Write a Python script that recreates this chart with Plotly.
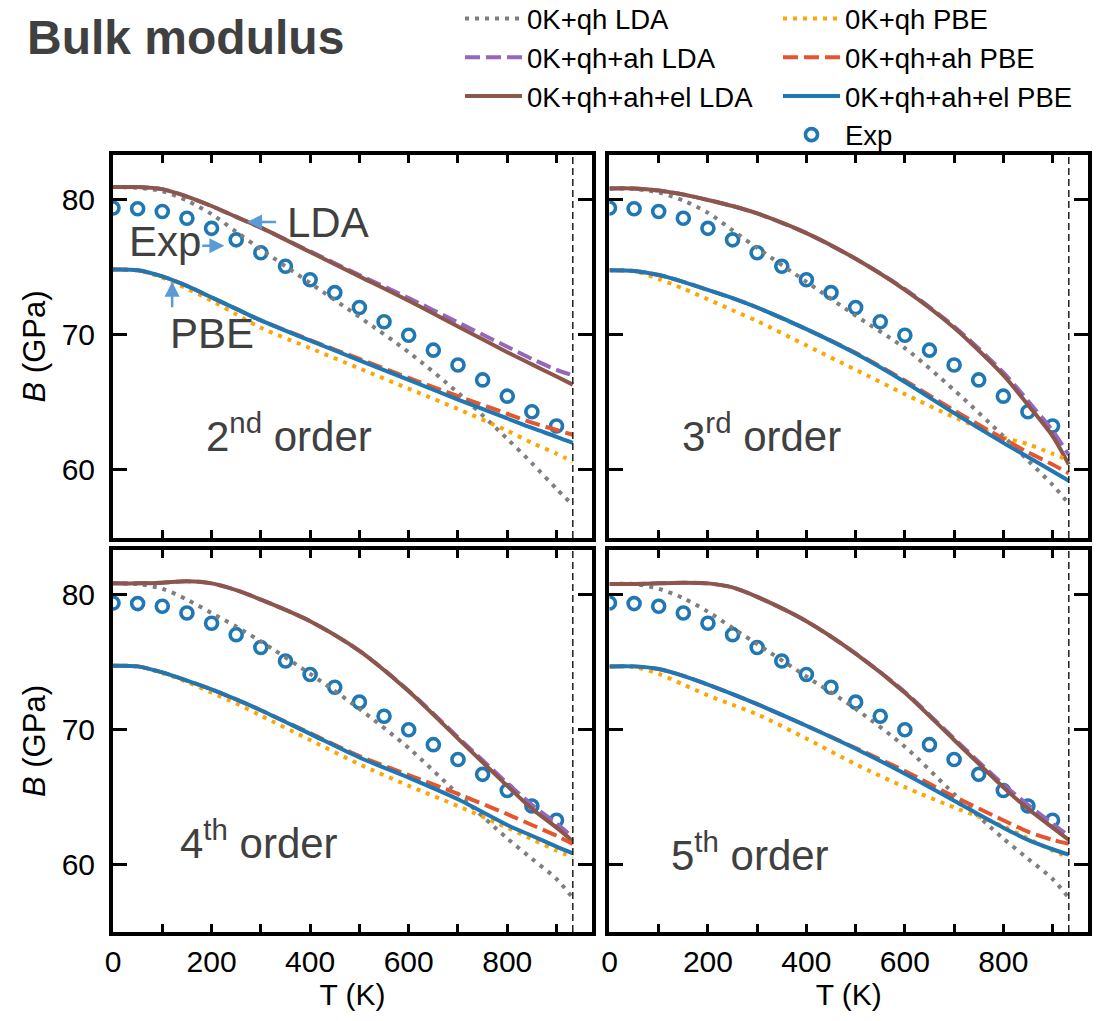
import plotly.graph_objects as go
from plotly.subplots import make_subplots

# ---------------- data ----------------
T = [0, 50, 100, 150, 200, 250, 300, 400, 500, 600, 700, 800, 850, 900, 933]
T_exp = [0, 50, 100, 150, 200, 250, 300, 350, 400, 450, 500, 550, 600, 650, 700, 750, 800, 850, 900]
B_exp = [79.35, 79.3, 79.1, 78.6, 77.85, 77.0, 76.05, 75.05, 74.05, 73.1, 72.0, 70.95,
         69.95, 68.85, 67.75, 66.65, 65.45, 64.3, 63.25]
T_melt = 933

# 2nd order
o2_qh_lda    = [80.9, 80.85, 80.6, 79.9, 78.9, 77.6, 76.3, 73.8, 71.3, 68.7, 65.7, 62.3, 60.5, 58.6, 57.4]
o2_qhah_lda  = [80.9, 80.9, 80.75, 80.2, 79.5, 78.7, 77.9, 76.15, 74.4, 72.7, 70.9, 69.1, 68.2, 67.4, 67.0]
o2_el_lda    = [80.9, 80.9, 80.75, 80.2, 79.5, 78.7, 77.9, 76.1, 74.3, 72.5, 70.6, 68.7, 67.8, 66.9, 66.3]
o2_qh_pbe    = [74.8, 74.75, 74.2, 73.4, 72.5, 71.5, 70.5, 69.0, 67.5, 66.0, 64.5, 62.9, 62.0, 61.2, 60.6]
o2_qhah_pbe  = [74.8, 74.75, 74.3, 73.6, 72.75, 71.9, 71.05, 69.6, 68.2, 66.8, 65.45, 64.15, 63.5, 62.95, 62.6]
o2_el_pbe    = [74.8, 74.75, 74.3, 73.6, 72.75, 71.9, 71.05, 69.55, 68.1, 66.65, 65.2, 63.8, 63.1, 62.45, 62.0]

# 3rd order
o3_qh_lda    = [80.8, 80.75, 80.5, 79.9, 79.0, 77.7, 76.4, 73.9, 71.4, 69.0, 65.9, 62.5, 60.7, 58.9, 57.5]
o3_qhah_lda  = [80.8, 80.8, 80.65, 80.35, 79.95, 79.5, 78.95, 77.5, 75.6, 73.35, 70.6, 67.2, 65.1, 62.9, 61.1]
o3_el_lda    = [80.8, 80.8, 80.65, 80.35, 79.95, 79.5, 78.95, 77.5, 75.6, 73.3, 70.5, 67.0, 64.8, 62.5, 60.4]
o3_qh_pbe    = [74.75, 74.7, 74.1, 73.4, 72.6, 71.8, 71.0, 69.2, 67.4, 65.6, 63.9, 62.4, 61.9, 61.2, 60.7]
o3_qhah_pbe  = [74.75, 74.7, 74.4, 73.9, 73.3, 72.7, 72.0, 70.4, 68.65, 66.6, 64.4, 62.3, 61.3, 60.4, 59.75]
o3_el_pbe    = [74.75, 74.7, 74.4, 73.9, 73.3, 72.7, 72.0, 70.4, 68.6, 66.5, 64.2, 62.0, 60.95, 59.9, 59.2]

# 4th order
o4_qh_lda    = [80.8, 80.75, 80.4, 79.6, 78.6, 77.6, 76.5, 74.1, 71.5, 68.6, 65.2, 61.9, 60.4, 58.9, 57.5]
o4_qhah_lda  = [80.8, 80.8, 80.85, 80.95, 80.8, 80.3, 79.6, 78.0, 75.8, 72.85, 69.4, 66.0, 64.4, 63.0, 62.0]
o4_el_lda    = [80.8, 80.8, 80.85, 80.95, 80.8, 80.3, 79.6, 78.0, 75.8, 72.8, 69.3, 65.8, 64.1, 62.7, 61.7]
o4_qh_pbe    = [74.7, 74.65, 74.15, 73.5, 72.7, 71.9, 71.0, 69.2, 67.4, 65.8, 64.3, 62.7, 61.85, 61.0, 60.5]
o4_qhah_pbe  = [74.7, 74.65, 74.2, 73.6, 72.95, 72.2, 71.4, 69.7, 68.0, 66.6, 65.2, 63.7, 62.9, 62.1, 61.5]
o4_el_pbe    = [74.7, 74.65, 74.2, 73.6, 72.95, 72.2, 71.4, 69.65, 67.9, 66.4, 64.8, 62.9, 62.1, 61.3, 60.8]

# 5th order
o5_qh_lda    = [80.75, 80.75, 80.4, 79.7, 78.7, 77.5, 76.3, 73.9, 71.5, 68.7, 65.2, 61.9, 60.4, 58.9, 57.5]
o5_qhah_lda  = [80.75, 80.75, 80.8, 80.85, 80.8, 80.5, 79.8, 78.0, 75.6, 72.75, 69.3, 65.9, 64.4, 63.0, 62.1]
o5_el_lda    = [80.75, 80.75, 80.8, 80.85, 80.8, 80.5, 79.8, 78.0, 75.6, 72.7, 69.2, 65.7, 64.1, 62.7, 61.8]
o5_qh_pbe    = [74.65, 74.6, 74.1, 73.3, 72.5, 71.8, 71.1, 69.3, 67.4, 65.7, 64.2, 62.8, 61.9, 61.0, 60.5]
o5_qhah_pbe  = [74.65, 74.65, 74.45, 73.95, 73.3, 72.6, 71.85, 70.25, 68.6, 66.9, 65.0, 63.25, 62.4, 61.8, 61.5]
o5_el_pbe    = [74.65, 74.65, 74.45, 73.95, 73.3, 72.6, 71.85, 70.25, 68.55, 66.7, 64.7, 62.7, 61.8, 61.1, 60.7]

series_names = ["0K+qh LDA", "0K+qh+ah LDA", "0K+qh+ah+el LDA",
                "0K+qh PBE", "0K+qh+ah PBE", "0K+qh+ah+el PBE"]
order_labels = ["2<sup>nd</sup> order", "3<sup>rd</sup> order",
                "4<sup>th</sup> order", "5<sup>th</sup> order"]
x_ticks = [0, 100, 200, 300, 400, 500, 600, 700, 800, 900]
x_ticktext = ["0", "", "200", "", "400", "", "600", "", "800", ""]
y_ticks = [60, 70, 80]

panels = [
    [o2_qh_lda, o2_qhah_lda, o2_el_lda, o2_qh_pbe, o2_qhah_pbe, o2_el_pbe],
    [o3_qh_lda, o3_qhah_lda, o3_el_lda, o3_qh_pbe, o3_qhah_pbe, o3_el_pbe],
    [o4_qh_lda, o4_qhah_lda, o4_el_lda, o4_qh_pbe, o4_qhah_pbe, o4_el_pbe],
    [o5_qh_lda, o5_qhah_lda, o5_el_lda, o5_qh_pbe, o5_qhah_pbe, o5_el_pbe],
]

# ---------------- styles ----------------
FONT = "Liberation Sans, Arial, sans-serif"
DOT = "4px,6px"
DASH = "15px,6px"
LW = 4
line_styles = [
    dict(color="#7f7f7f", dash=DOT, width=LW),
    dict(color="#9467bd", dash=DASH, width=LW),
    dict(color="#8c564b", dash="solid", width=LW),
    dict(color="#ffa500", dash=DOT, width=LW),
    dict(color="#e4572e", dash=DASH, width=LW),
    dict(color="#1f77b4", dash="solid", width=LW),
]
legend_of = ["legend", "legend", "legend", "legend2", "legend2", "legend2"]
EXP_COLOR = "#1f77b4"
TEXT_GRAY = "#404040"
ARROW_BLUE = "#5b9bd5"

X_RANGE = [0, 972]
Y_RANGE = [54.97, 83.27]

fig = make_subplots(rows=2, cols=2)
positions = [(1, 1), (1, 2), (2, 1), (2, 2)]

for p, (r, c) in enumerate(positions):
    first = p == 0
    fig.add_trace(go.Scatter(
        x=T_exp, y=B_exp, mode="markers", name="Exp",
        marker=dict(symbol="circle-open", size=12, color=EXP_COLOR,
                    line=dict(width=3.6, color=EXP_COLOR)),
        showlegend=first, legend="legend2", legendrank=1000, legendgroup="exp"),
        row=r, col=c)
    for s, vals in enumerate(panels[p]):
        fig.add_trace(go.Scatter(
            x=T, y=vals, mode="lines", name=series_names[s],
            line=dict(shape="spline", smoothing=0.8, **line_styles[s]),
            showlegend=first, legend=legend_of[s], legendrank=s + 1,
            legendgroup=series_names[s]),
            row=r, col=c)
    # melting temperature
    fig.add_trace(go.Scatter(
        x=[T_melt, T_melt], y=Y_RANGE, mode="lines", showlegend=False,
        line=dict(color="#222222", width=1.5, dash="7px,4px"), hoverinfo="skip"),
        row=r, col=c)

# ---------------- axes ----------------
dom_x = [[0, 0.4913], [0.5092, 1.0]]
dom_y = [[0.5071, 1.0], [0.0, 0.4916]]
tickfont = dict(family=FONT, size=30, color="black")
for p, (r, c) in enumerate(positions):
    fig.update_xaxes(
        range=X_RANGE, domain=dom_x[c - 1], tickvals=x_ticks, ticktext=x_ticktext,
        ticks="inside", ticklen=8, tickwidth=2.5, tickcolor="black",
        showline=True, linewidth=4, linecolor="black", mirror="ticks",
        showgrid=False, zeroline=False, showticklabels=(r == 2),
        tickfont=tickfont,
        title=dict(text="T (K)" if r == 2 else "", font=dict(family=FONT, size=30, color="black"),
                   standoff=3),
        row=r, col=c)
    fig.update_yaxes(
        range=Y_RANGE, domain=dom_y[r - 1], tickvals=y_ticks,
        ticks="inside", ticklen=14, tickwidth=2.5, tickcolor="black",
        showline=True, linewidth=4, linecolor="black", mirror="ticks",
        showgrid=False, zeroline=False, showticklabels=(c == 1),
        tickfont=tickfont, ticklabelstandoff=8,
        title=dict(text="<i>B</i> (GPa)" if c == 1 else "",
                   font=dict(family=FONT, size=31, color="black"), standoff=8),
        row=r, col=c)

# ---------------- annotations ----------------
label_pos = [(184, 62.73, "x", "y"), (144, 62.73, "x2", "y2"),
             (131, 61.77, "x3", "y3"), (120, 60.9, "x4", "y4")]
annotations = []
for (xv, yv, xr, yr), txt in zip(label_pos, order_labels):
    annotations.append(dict(x=xv, y=yv, xref=xr, yref=yr, text=txt, showarrow=False,
                            xanchor="left", yanchor="middle",
                            font=dict(family=FONT, size=42, color=TEXT_GRAY)))
# method labels in first panel
for xv, yv, txt in [(348, 78.3, "LDA"), (29, 76.9, "Exp"), (112, 70.1, "PBE")]:
    annotations.append(dict(x=xv, y=yv, xref="x", yref="y", text=txt, showarrow=False,
                            xanchor="left", yanchor="middle",
                            font=dict(family=FONT, size=42, color=TEXT_GRAY)))
# arrows (head, tail)
for hx, hy, tx, ty in [(272, 78.32, 334, 78.32), (226, 76.57, 178, 76.57), (120, 73.9, 120, 71.9)]:
    annotations.append(dict(x=hx, y=hy, ax=tx, ay=ty, xref="x", yref="y", axref="x", ayref="y",
                            text="", showarrow=True, arrowhead=2, arrowsize=1.2,
                            arrowwidth=2.5, arrowcolor=ARROW_BLUE))

fig.update_layout(
    width=1107, height=1021,
    margin=dict(l=113, r=19, t=155, b=89, autoexpand=False),
    paper_bgcolor="white", plot_bgcolor="white",
    font=dict(family=FONT, color="black"),
    title=dict(text="<b>Bulk modulus</b>", x=27 / 1107, xref="container", xanchor="left",
               y=1 - 37 / 1021, yref="container", yanchor="middle",
               font=dict(family=FONT, size=48, color=TEXT_GRAY)),
    annotations=annotations,
    legend=dict(x=(460 - 113) / 975, y=(932 + 6) / 777, xanchor="left", yanchor="top",
                font=dict(family=FONT, size=27.5, color="black"), bgcolor="rgba(0,0,0,0)",
                traceorder="grouped", tracegroupgap=0, itemwidth=57),
    legend2=dict(x=(778 - 113) / 975, y=(932 + 6) / 777, xanchor="left", yanchor="top",
                 font=dict(family=FONT, size=27.5, color="black"), bgcolor="rgba(0,0,0,0)",
                 traceorder="grouped", tracegroupgap=0, itemwidth=57),
)

fig.write_html("out.html")
